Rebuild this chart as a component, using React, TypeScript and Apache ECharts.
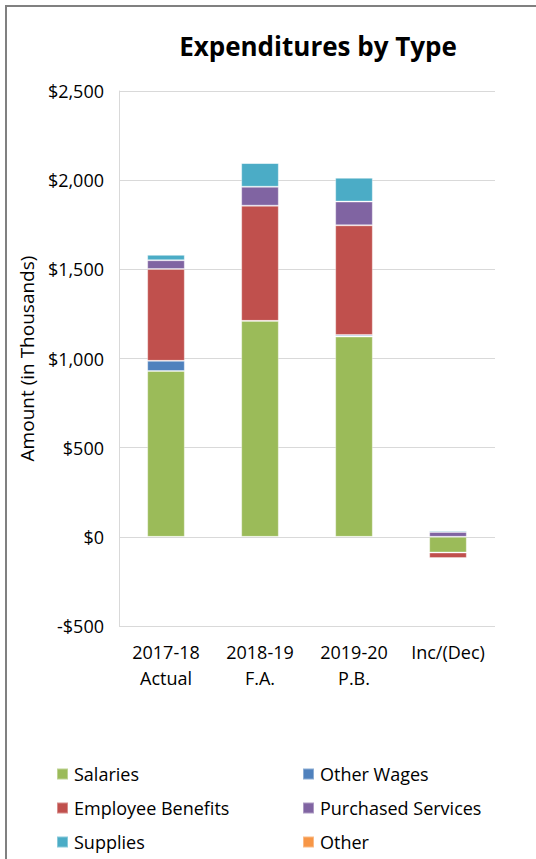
import React, { useEffect, useRef } from "react";
import * as echarts from "echarts";

const categories = ["2017-18\nActual", "2018-19\nF.A.", "2019-20\nP.B.", "Inc/(Dec)"];
const salaries = [930, 1211, 1123, -88];
const otherWages = [57, 0, 9, 0];
const employeeBenefits = [515, 646, 615, -31];
const purchasedServices = [49, 106, 133, 27];
const supplies = [31, 133, 134, 8];
const other = [0, 0, 0, 0];
const yTicks = { min: -500, max: 2500, interval: 500 };

const FONT = "'Open Sans', 'Noto Sans', sans-serif";

export default function App() {
  const ref = useRef<HTMLDivElement>(null);
  useEffect(() => {
    if (!ref.current) return;
    const chart = echarts.init(ref.current, null, { renderer: "svg" });
    const mk = (name: string, data: number[], color: string) => ({
      name,
      type: "bar",
      stack: "total",
      data,
      barWidth: "40%",
      itemStyle: { color, borderColor: "rgba(255,255,255,0.35)", borderWidth: 1 },
    });
    const legendItem = (name: string, left: number, top: number) => ({
      data: [name],
      left,
      top,
      padding: 0,
      itemWidth: 11,
      itemHeight: 11,
      itemGap: 0,
      icon: "rect",
      textStyle: { fontFamily: FONT, fontSize: 18, color: "#000", padding: [0, 0, 0, 1] },
      selectedMode: false,
    });
    chart.setOption({
      animation: false,
      backgroundColor: "#fff",
      title: {
        text: "Expenditures by Type",
        left: 313,
        top: 28,
        textAlign: "center",
        textStyle: { fontFamily: FONT, fontSize: 26, fontWeight: "bold", color: "#000" },
      },
      grid: { left: 119, right: 41, top: 91, bottom: 233 },
      legend: [
        legendItem("Salaries", 56, 765),
        legendItem("Other Wages", 302, 765),
        legendItem("Employee Benefits", 56, 799),
        legendItem("Purchased Services", 302, 799),
        legendItem("Supplies", 56, 833),
        legendItem("Other", 302, 833),
      ],
      xAxis: {
        type: "category",
        data: categories,
        axisLine: { show: false },
        axisTick: { show: false },
        axisLabel: {
          fontFamily: FONT,
          fontSize: 18,
          color: "#000",
          margin: 13,
          lineHeight: 26,
          interval: 0,
        },
      },
      yAxis: {
        type: "value",
        min: yTicks.min,
        max: yTicks.max,
        interval: yTicks.interval,
        name: "Amount (in Thousands)",
        nameLocation: "middle",
        nameGap: 80,
        nameTextStyle: { fontFamily: FONT, fontSize: 19, color: "#000" },
        axisLine: { show: true, lineStyle: { color: "#d9d9d9" } },
        axisTick: { show: false },
        splitLine: { lineStyle: { color: "#d9d9d9" } },
        axisLabel: {
          fontFamily: FONT,
          fontSize: 18,
          color: "#000",
          margin: 15,
          formatter: (v: number) =>
            (v < 0 ? "-$" : "$") + Math.abs(v).toLocaleString("en-US"),
        },
      },
      graphic: [
        {
          type: "rect",
          shape: { x: 6, y: 6, width: 700, height: 1000 },
          style: { fill: "none", stroke: "#808080", lineWidth: 2 },
          silent: true,
        },
      ],
      series: [
        mk("Salaries", salaries, "#9BBB59"),
        mk("Other Wages", otherWages, "#4F81BD"),
        mk("Employee Benefits", employeeBenefits, "#C0504D"),
        mk("Purchased Services", purchasedServices, "#8064A2"),
        mk("Supplies", supplies, "#4BACC6"),
        mk("Other", other, "#F79646"),
      ],
    });
    return () => chart.dispose();
  }, []);
  return (
    <div
      ref={ref}
      style={{ position: "absolute", left: 0, top: 0, width: 536, height: 859 }}
    />
  );
}
